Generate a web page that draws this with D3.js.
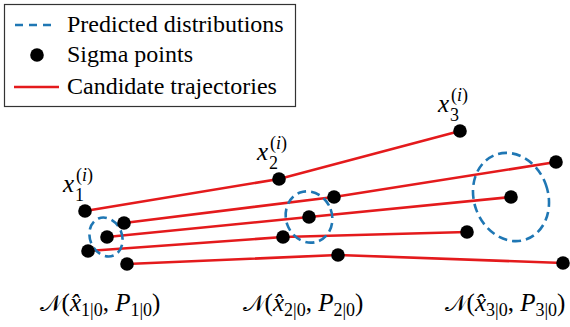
<!DOCTYPE html>
<html>
<head>
<meta charset="utf-8">
<script src="https://d3js.org/d3.v7.min.js"></script>
</head>
<body style="margin:0;background:#fff">
<script>
// candidate trajectories, one per sigma point, three steps each (x, y in plot units)
var trajX = [
  [1.70, 5.58, 9.20],
  [2.48, 6.68, 11.12],
  [2.14, 6.18, 10.22],
  [1.76, 5.66, 9.34],
  [2.54, 6.76, 11.26]
];
var trajY = [
  [2.32, 2.96, 3.92],
  [2.08, 2.60, 3.30],
  [1.80, 2.20, 2.60],
  [1.52, 1.80, 1.90],
  [1.26, 1.44, 1.28]
];

// predicted distributions (ellipses) per step
var distCx = [2.12, 6.18, 10.22];
var distCy = [1.80, 2.20, 2.60];
var distRx = [0.32, 0.46, 0.74];
var distRy = [0.40, 0.52, 0.90];
var distAngle = [-22, -20, -20];

var stepNames = ["1", "2", "3"];
var legendLabels = ["Predicted distributions", "Sigma points", "Candidate trajectories"];

var width = 570, height = 327;
var red = "#e41a1c", blue = "#1f77b4";
var serif = "Liberation Serif";

var x = d3.scaleLinear().domain([0, 11.4]).range([0, width]);
var y = d3.scaleLinear().domain([0, 6.54]).range([height, 0]);

var svg = d3.select("body").append("svg")
  .attr("width", width)
  .attr("height", height);

// trajectories
var line = d3.line()
  .x(function(d) { return x(d[0]); })
  .y(function(d) { return y(d[1]); });

var trajs = trajX.map(function(xs, i) {
  return xs.map(function(v, j) { return [v, trajY[i][j]]; });
});

svg.selectAll(".traj")
  .data(trajs)
  .enter().append("path")
  .attr("class", "traj")
  .attr("d", line)
  .attr("fill", "none")
  .attr("stroke", red)
  .attr("stroke-width", 2.6);

// ellipses
svg.selectAll(".dist")
  .data(distCx)
  .enter().append("ellipse")
  .attr("class", "dist")
  .attr("transform", function(d, i) {
    return "translate(" + x(d) + "," + y(distCy[i]) + ") rotate(" + distAngle[i] + ")";
  })
  .attr("rx", function(d, i) { return x(distRx[i]) - x(0); })
  .attr("ry", function(d, i) { return y(0) - y(distRy[i]); })
  .attr("fill", "none")
  .attr("stroke", blue)
  .attr("stroke-width", 2.6)
  .attr("stroke-dasharray", "9,5");

// sigma points
var pts = [];
trajs.forEach(function(t) { t.forEach(function(p) { pts.push(p); }); });
svg.selectAll(".pt")
  .data(pts)
  .enter().append("circle")
  .attr("class", "pt")
  .attr("cx", function(d) { return x(d[0]); })
  .attr("cy", function(d) { return y(d[1]); })
  .attr("r", 6.8)
  .attr("fill", "#000");

// x_k^(i) labels next to the top trajectory
stepNames.forEach(function(s, k) {
  var px = x(trajX[0][k]) - 22, py = y(trajY[0][k]) - 19;
  var t = svg.append("text").attr("x", px).attr("y", py)
    .attr("font-family", serif)
    .attr("font-size", 25).attr("font-style", "italic");
  t.append("tspan").text("x");
  t.append("tspan").attr("x", px + 12).attr("y", py + 9)
    .attr("font-style", "normal").attr("font-size", 18).text(s);
  t.append("tspan").attr("x", px + 13).attr("y", py - 11)
    .attr("font-style", "normal").attr("font-size", 18).text("(");
  t.append("tspan").attr("font-size", 18).text("i");
  t.append("tspan").attr("font-style", "normal").attr("font-size", 18).text(")");
});

// N(x̂_{k|0}, P_{k|0}) labels under each distribution
stepNames.forEach(function(s, k) {
  var t = svg.append("text")
    .attr("x", x(distCx[k]) - 6)
    .attr("y", 311)
    .attr("text-anchor", "middle")
    .attr("font-family", serif)
    .attr("font-size", 25);
  t.append("tspan").attr("font-family", "DejaVu Serif").attr("font-size", 23).text("\u{1D4A9}");
  t.append("tspan").text("(");
  t.append("tspan").attr("font-style", "italic").text("x\u0302");
  t.append("tspan").attr("dy", 5).attr("font-size", 18).text(s + "|0");
  t.append("tspan").attr("dy", -5).text(", ");
  t.append("tspan").attr("font-style", "italic").text("P");
  t.append("tspan").attr("dy", 5).attr("font-size", 18).text(s + "|0");
  t.append("tspan").attr("dy", -5).text(")");
});

// legend
var lg = svg.append("g");
lg.append("rect")
  .attr("x", 4.5).attr("y", 4.5)
  .attr("width", 291).attr("height", 102)
  .attr("fill", "#fff")
  .attr("stroke", "#333")
  .attr("stroke-width", 1.2);

var rowY = [25, 55, 87];
lg.append("line")
  .attr("x1", 15).attr("x2", 57).attr("y1", rowY[0]).attr("y2", rowY[0])
  .attr("stroke", blue).attr("stroke-width", 2.6).attr("stroke-dasharray", "8,6");
lg.append("circle")
  .attr("cx", 37).attr("cy", rowY[1]).attr("r", 6.8).attr("fill", "#000");
lg.append("line")
  .attr("x1", 14).attr("x2", 59).attr("y1", rowY[2]).attr("y2", rowY[2])
  .attr("stroke", red).attr("stroke-width", 2.6);

lg.selectAll(".lt")
  .data(legendLabels)
  .enter().append("text")
  .attr("class", "lt")
  .attr("x", 67)
  .attr("y", function(d, i) { return rowY[i] + 6.5; })
  .attr("font-family", serif)
  .attr("font-size", 24)
  .text(function(d) { return d; });
</script>
</body>
</html>
